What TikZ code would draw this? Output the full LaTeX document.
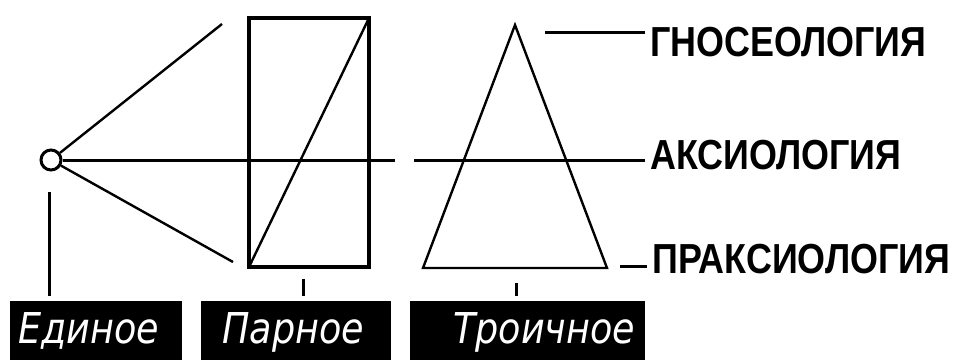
\documentclass[tikz,border=0pt]{standalone}
\usepackage{fontspec}
\usepackage{tikz}
\usetikzlibrary{positioning}
\newfontfamily\tagfont[FakeStretch=0.86]{DejaVu Sans}
\newfontfamily\headfont[FakeStretch=0.855]{Liberation Sans}
\tikzset{stroke/.style={draw=black,line width=3pt},slant/.style={draw=black,line width=2.4pt},tagbox/.style={fill=black,text=white,anchor=west,inner xsep=0pt,inner ysep=0pt,minimum height=59pt,align=left,text height=35pt,text depth=10pt,font=\tagfont\itshape\fontsize{42.5}{48}\selectfont},head/.style={anchor=west,inner sep=0pt,font=\headfont\bfseries\fontsize{42}{48}\selectfont}}

\begin{document}
\begin{tikzpicture}[x=1pt,y=-1pt]
\useasboundingbox (0,0) rectangle (960,360);
\node[circle,draw,line width=3pt,minimum size=20pt,inner sep=0pt] (o) at (51,160) {};
\node[draw,line width=3.5pt,minimum width=120pt,minimum height=249pt,inner sep=0pt,outer sep=0pt] (b) at (309,142.5) {};
\node[tagbox,text width=172pt] (e) at (10,330.5) {\hspace*{8pt}Единое};
\node[tagbox,text width=190pt] (p) at (201,330.5) {\hspace*{21pt}Парное};
\node[tagbox,text width=235pt] (t) at (410,330.5) {\hspace*{43pt}Троичное};
\node[head] (g) at (650,42) {ГНОСЕОЛОГИЯ};
\node[head] (a) at (650,155) {АКСИОЛОГИЯ};
\node[head] (r) at (652,259) {ПРАКСИОЛОГИЯ};
\coordinate (u) at (222,24);\coordinate (l) at (233,262);
\coordinate (x1) at (395,160);\coordinate (x2) at (414,160);
\coordinate (top) at (515,25);\coordinate (bl) at (423,268);\coordinate (br) at (607,268);
\coordinate (gt) at (545,32);\coordinate (rt) at (620,266);
\coordinate (te) at (49,192);\coordinate (tp) at (303,279);\coordinate (tt) at (516,283);
\draw[slant] (o)--(u);\draw[slant] (o)--(l);
\draw[stroke] (o)--(x1);\draw[stroke,shorten >=5pt] (x2)--(x2 -| a.west);
\draw[slant] (b.south west)--(b.north east);
\draw[slant] (top)--(bl)--(br)--cycle;
\draw[stroke,shorten >=5pt] (gt)--(gt -| g.west);
\draw[stroke,shorten >=5pt] (rt)--(rt -| r.west);
\draw[stroke,shorten >=5pt] (te)--(te |- e.north);
\draw[stroke,shorten >=5pt] (tp)--(tp |- p.north);
\draw[stroke,shorten >=5pt] (tt)--(tt |- t.north);
\end{tikzpicture}
\end{document}
